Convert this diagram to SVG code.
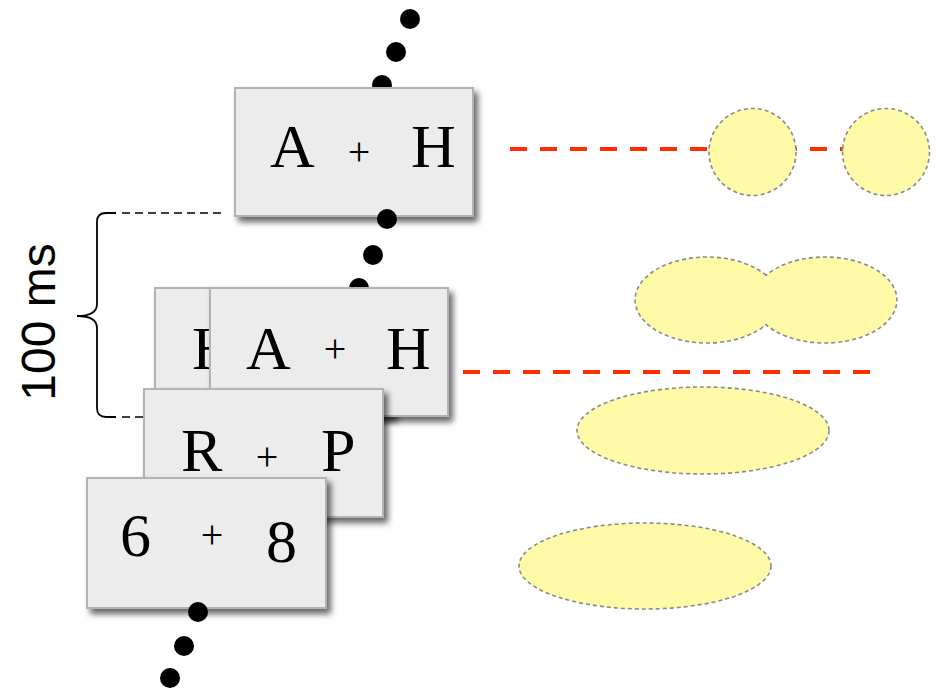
<svg xmlns="http://www.w3.org/2000/svg" width="938" height="692" viewBox="0 0 938 692">
<style>
.card{fill:#ececec;stroke:#b3b3b3;stroke-width:2;}
.big{font-family:"Liberation Serif",serif;font-size:62px;fill:#000;}
.plus{font-family:"Liberation Serif",serif;font-size:40px;fill:#000;text-anchor:middle;}
.dot{fill:#000;}
.red{stroke:#ff2d00;stroke-width:4;fill:none;stroke-dasharray:17 13;}
.blob{fill:#fffaa8;stroke:#8a8a8a;stroke-width:1.6;stroke-dasharray:4 3;}
.dash{stroke:#000;stroke-width:1.5;fill:none;stroke-dasharray:8 5;}
</style>
<defs>
<filter id="sh" x="-10%" y="-10%" width="125%" height="130%">
<feDropShadow dx="4" dy="5" stdDeviation="3" flood-color="#000" flood-opacity="0.6"/>
</filter>
</defs>
<rect width="938" height="692" fill="#fff"/>
<g id="dots-back">
<circle class="dot" cx="410" cy="19" r="10"/>
<circle class="dot" cx="396" cy="52" r="10"/>
<circle class="dot" cx="382" cy="85" r="10"/>
<circle class="dot" cx="359" cy="288" r="10"/>
</g>
<g id="frame1">
<rect class="card" x="235" y="88" width="238" height="128" filter="url(#sh)"/>
<text class="big" x="270" y="167">A</text>
<text class="plus" x="359" y="165">+</text>
<text class="big" x="411" y="167">H</text>
</g>
<g id="frame2-back">
<rect class="card" x="155" y="288" width="238" height="128" filter="url(#sh)"/>
<text class="big" x="192" y="369">H</text>
</g>
<g id="frame2">
<rect class="card" x="210" y="288" width="238" height="128" filter="url(#sh)"/>
<text class="big" x="246" y="369">A</text>
<text class="plus" x="335" y="362">+</text>
<text class="big" x="386" y="369">H</text>
</g>
<g id="frame3">
<rect class="card" x="144" y="389" width="239" height="128" filter="url(#sh)"/>
<text class="big" x="181" y="471">R</text>
<text class="plus" x="267" y="470">+</text>
<text class="big" x="321" y="471">P</text>
</g>
<g id="frame4">
<rect class="card" x="87" y="478" width="239" height="130" filter="url(#sh)"/>
<text class="big" x="120" y="556">6</text>
<text class="plus" x="212" y="548">+</text>
<text class="big" x="266" y="562">8</text>
</g>
<g id="dots-front">
<circle class="dot" cx="387" cy="219" r="10"/>
<circle class="dot" cx="373" cy="255" r="10"/>
<circle class="dot" cx="198" cy="612" r="10"/>
<circle class="dot" cx="184" cy="646" r="10"/>
<circle class="dot" cx="170" cy="678" r="10"/>
</g>
<g id="connectors">
<line class="red" x1="510" y1="149" x2="843" y2="149"/>
<line class="red" x1="463" y1="372" x2="870" y2="372"/>
<path class="dash" d="M122,213 H225"/>
<path class="dash" d="M122,417 H145"/>
<path d="M116,213 H106 Q97,213 97,222 V304 Q97,316 77,316 Q97,316 97,328 V408 Q97,417 106,417 H116" fill="none" stroke="#000" stroke-width="1.8"/>
</g>
<g id="time-label">
<text x="0" y="0" transform="translate(55,322) rotate(-90)" font-family="Liberation Sans, Arial, sans-serif" font-size="48" text-anchor="middle" fill="#000">100 ms</text>
</g>
<g id="blobs">
<circle class="blob" cx="752.5" cy="152" r="43.5"/>
<circle class="blob" cx="886" cy="152" r="43.5"/>
<path class="blob" d="M766,275.3 A72,43 0 1,0 766,324.7 A72,43 0 1,0 766,275.3 Z"/>
<ellipse class="blob" cx="703" cy="430.5" rx="126" ry="43.5"/>
<ellipse class="blob" cx="645" cy="566" rx="126" ry="43"/>
</g>
</svg>
